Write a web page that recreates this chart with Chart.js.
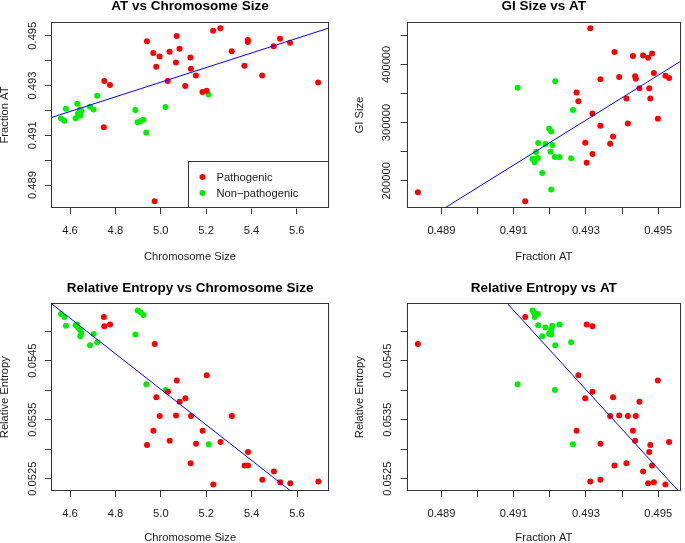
<!DOCTYPE html>
<html><head><meta charset="utf-8">
<script src="https://cdn.jsdelivr.net/npm/chart.js@4"></script>
<style>
html,body{margin:0;padding:0;background:#fff;overflow:hidden;width:685px;height:543px;}
canvas{position:absolute;display:block;}
</style></head><body>
<canvas id="c1" width="342" height="270" style="left:0;top:0"></canvas>
<canvas id="c2" width="343" height="270" style="left:342px;top:0"></canvas>
<canvas id="c3" width="342" height="273" style="left:0;top:270px"></canvas>
<canvas id="c4" width="343" height="273" style="left:342px;top:270px"></canvas>
<script>
// ---------------- data ----------------
const groupNames = ['Pathogenic', 'Non\u2212pathogenic'];

const pathSize = [4.749, 4.751, 4.776, 4.939, 4.967, 4.973, 4.980, 4.995, 5.031, 5.039, 5.067, 5.070, 5.083, 5.108, 5.131, 5.133, 5.155, 5.184, 5.202, 5.231, 5.263, 5.313, 5.369, 5.384, 5.384, 5.447, 5.498, 5.526, 5.570, 5.694];
const pathAT = [0.49132, 0.49318, 0.49302, 0.49478, 0.49430, 0.48835, 0.49375, 0.49416, 0.49318, 0.49436, 0.49392, 0.49499, 0.49448, 0.49298, 0.49412, 0.49367, 0.49340, 0.49274, 0.49279, 0.49520, 0.49530, 0.49438, 0.49379, 0.49483, 0.49475, 0.49340, 0.49458, 0.49488, 0.49472, 0.49312];
const pathEntropy = [0.05524, 0.05508, 0.05511, 0.05307, 0.05331, 0.05478, 0.05388, 0.05356, 0.05397, 0.05314, 0.05357, 0.05416, 0.05380, 0.05386, 0.05276, 0.05356, 0.05309, 0.05331, 0.05425, 0.05240, 0.05312, 0.05356, 0.05272, 0.05272, 0.05295, 0.05248, 0.05262, 0.05244, 0.05242, 0.05245];
const pathGI = [164800, 245900, 231000, 341200, 414300, 180200, 276100, 298400, 315500, 379500, 378300, 306400, 358900, 265300, 341200, 263600, 374300, 351500, 336600, 380600, 376600, 375500, 421100, 418800, 358900, 294400, 415400, 385200, 411400, 462200];

const nonSize = [4.560, 4.575, 4.582, 4.625, 4.632, 4.635, 4.644, 4.650, 4.645, 4.688, 4.704, 4.720, 4.888, 4.898, 4.911, 4.923, 4.936, 5.021, 5.211];
const nonAT = [0.49167, 0.49158, 0.49207, 0.49168, 0.49227, 0.49188, 0.49204, 0.49198, 0.49179, 0.49215, 0.49204, 0.49259, 0.49202, 0.49152, 0.49156, 0.49162, 0.49111, 0.49214, 0.49264];
const nonEntropy = [0.05529, 0.05524, 0.05509, 0.05510, 0.05511, 0.05506, 0.05502, 0.05496, 0.05491, 0.05476, 0.05495, 0.05481, 0.05494, 0.05535, 0.05532, 0.05527, 0.05410, 0.05400, 0.05308];
const nonGI = [239000, 231600, 261300, 264700, 240700, 263000, 184800, 289800, 213300, 370900, 284700, 238500, 249900, 237300, 237300, 249300, 360000, 240700, 321800];

// fitted regression lines (end points)
const fitSizeAT_x = [4.516, 5.742];      const fitSizeAT_y = [0.49171, 0.49531];
const fitATGI_x = [0.48909, 0.49563];    const fitATGI_y = [153200, 405700];
const fitSizeEnt_x = [4.516, 5.572];     const fitSizeEnt_y = [0.05547, 0.05229];
const fitATEnt_x = [0.49082, 0.49556];   const fitATEnt_y = [0.05547, 0.05229];

// tick labels
const sizeTickLabels = ['4.6', '4.8', '5.0', '5.2', '5.4', '5.6'];
const atTickLabels = ['0.489', '0.491', '0.493', '0.495'];
const giTickLabels = ['200000', '300000', '400000'];
const entropyTickLabels = ['0.0525', '0.0535', '0.0545'];

// ---------------- styling ----------------
const FONT = "'Liberation Sans', Arial, Helvetica, sans-serif";
const TEXT = '#1a1a1a';
const RED = '#ff0000';
const GREEN = '#00ee00';
const BLUE = '#0000ff';
const FRAME = '#333333';
const FS = 11.2;

function pts(xs, ys) { return xs.map((x, i) => ({x: x, y: ys[i]})); }
function labeler(labels) {
  return function (v) {
    const hit = labels.find(l => Math.abs(parseFloat(l) - v) <= 1e-6 * Math.abs(v));
    return hit === undefined ? '' : hit;
  };
}
function stepTicks(o) {
  return function (s) {
    const t = [];
    const n0 = Math.ceil(o.min / o.step - 1e-9), n1 = Math.floor(o.max / o.step + 1e-9);
    for (let n = n0; n <= n1; n++) t.push({value: +(n * o.step).toPrecision(12)});
    s.ticks = t;
  };
}
function axisX(o) {
  return {
    type: 'linear', position: 'bottom', min: o.min, max: o.max,
    ticks: {stepSize: o.step, includeBounds: false, autoSkip: false, minRotation: 0, maxRotation: 0,
      padding: o.tickPad, color: TEXT, font: {family: FONT, size: FS}, callback: labeler(o.labels)},
    grid: {drawOnChartArea: false, drawTicks: true, tickLength: 6, color: FRAME, lineWidth: 1},
    border: {display: false},
    title: {display: true, text: o.title, color: TEXT, font: {family: FONT, size: FS, lineHeight: 1.2},
      padding: {top: 0, bottom: o.titlePad}},
    afterBuildTicks: stepTicks(o),
    afterFit(s) { s.height = o.size; }
  };
}
function axisY(o) {
  return {
    type: 'linear', position: 'left', min: o.min, max: o.max,
    ticks: {stepSize: o.step, includeBounds: false, autoSkip: false, minRotation: 90, maxRotation: 90,
      crossAlign: 'center', padding: o.tickPad, color: TEXT, font: {family: FONT, size: FS},
      callback: labeler(o.labels)},
    grid: {drawOnChartArea: false, drawTicks: true, tickLength: 6, color: FRAME, lineWidth: 1},
    border: {display: false},
    title: {display: true, text: o.title, color: TEXT, font: {family: FONT, size: FS, lineHeight: 1.2},
      padding: {top: o.titlePad, bottom: 0}},
    afterBuildTicks: stepTicks(o),
    afterFit(s) { s.width = o.size; }
  };
}
const framePlugin = {
  id: 'frame',
  afterDatasetsDraw(chart) {
    const a = chart.chartArea, ctx = chart.ctx;
    ctx.save();
    ctx.strokeStyle = FRAME; ctx.lineWidth = 1;
    const l = Math.round(a.left) + 0.5, t = Math.round(a.top) + 0.5;
    const r = Math.round(a.right) - 0.5, b = Math.round(a.bottom) - 0.5;
    ctx.strokeRect(l, t, r - l, b - t);
    ctx.restore();
  }
};
const insetLegend = {
  id: 'insetLegend',
  afterDraw(chart) {
    const a = chart.chartArea, ctx = chart.ctx;
    const items = chart.data.datasets.filter(d => !d.showLine);
    const w = 141, h = 47;
    const left = Math.round(a.right - w) + 0.5, top = Math.round(a.bottom - h) + 0.5;
    ctx.save();
    ctx.fillStyle = '#fff';
    ctx.fillRect(left, top, w, h);
    ctx.strokeStyle = FRAME; ctx.lineWidth = 1;
    ctx.strokeRect(left, top, Math.round(a.right) - 0.5 - left, Math.round(a.bottom) - 0.5 - top);
    ctx.font = FS + 'px ' + FONT;
    ctx.textBaseline = 'middle';
    items.forEach((d, i) => {
      const y = top + 15.5 + i * 16;
      ctx.fillStyle = d.backgroundColor;
      ctx.beginPath(); ctx.arc(left + 14, y, 3, 0, Math.PI * 2); ctx.fill();
      ctx.fillStyle = TEXT;
      ctx.fillText(d.label, left + 28, y + 0.5);
    });
    ctx.restore();
  }
};

function makeChart(id, cfg) {
  const datasets = [
    {label: 'fit', data: pts(cfg.fitX, cfg.fitY), showLine: true, borderColor: BLUE, borderWidth: 1,
      pointRadius: 0, fill: false},
    {label: groupNames[0], data: pts(cfg.px, cfg.py), backgroundColor: RED, borderWidth: 0, pointRadius: 3},
    {label: groupNames[1], data: pts(cfg.nx, cfg.ny), backgroundColor: GREEN, borderWidth: 0, pointRadius: 3}
  ];
  return new Chart(document.getElementById(id), {
    type: 'scatter',
    data: {datasets},
    plugins: cfg.legend ? [framePlugin, insetLegend] : [framePlugin],
    options: {
      responsive: false, animation: false, devicePixelRatio: 1, events: [],
      layout: {padding: {left: 0, top: 0, bottom: 0, right: cfg.padRight}},
      plugins: {
        legend: {display: false}, tooltip: {enabled: false},
        title: {display: true, text: cfg.title, color: '#000', fullSize: false,
          font: {family: FONT, size: 13.5, weight: 'bold', lineHeight: 1},
          padding: {top: cfg.titleTop, bottom: cfg.titleBottom}}
      },
      scales: {x: cfg.x, y: cfg.y}
    }
  });
}

const sizeAxis = (h, tp) => axisX({min: 4.516, max: 5.742, step: 0.2, labels: sizeTickLabels, title: 'Chromosome Size', tickPad: 10, titlePad: tp, size: h});
const atAxisX = (h, tp) => axisX({min: 0.48804, max: 0.49563, step: 0.001, labels: atTickLabels, title: 'Fraction AT', tickPad: 10, titlePad: tp, size: h});

makeChart('c1', {
  title: 'AT vs Chromosome Size', titleTop: 0, titleBottom: 8.5, padRight: 13, legend: true,
  fitX: fitSizeAT_x, fitY: fitSizeAT_y, px: pathSize, py: pathAT, nx: nonSize, ny: nonAT,
  x: sizeAxis(62, 6.6),
  y: axisY({min: 0.48808, max: 0.49555, step: 0.001, labels: atTickLabels, title: 'Fraction AT', tickPad: -1.5, titlePad: -1.7, size: 51})
});
makeChart('c2', {
  title: 'GI Size vs AT', titleTop: 0, titleBottom: 8.5, padRight: 0.5,
  fitX: fitATGI_x, fitY: fitATGI_y, px: pathAT, py: pathGI, nx: nonAT, ny: nonGI,
  x: atAxisX(62, 6.6),
  y: axisY({min: 153200, max: 472800, step: 50000, labels: giTickLabels, title: 'GI Size', tickPad: -5.3, titlePad: 11.3, size: 64.7})
});
makeChart('c3', {
  title: 'Relative Entropy vs Chromosome Size', titleTop: 11.25, titleBottom: 8.55, padRight: 12.7,
  fitX: fitSizeEnt_x, fitY: fitSizeEnt_y, px: pathSize, py: pathEntropy, nx: nonSize, ny: nonEntropy,
  x: sizeAxis(52, -1.7),
  y: axisY({min: 0.05229, max: 0.05547, step: 0.0005, labels: entropyTickLabels, title: 'Relative Entropy', tickPad: -4.6, titlePad: -1.7, size: 51})
});
makeChart('c4', {
  title: 'Relative Entropy vs AT', titleTop: 11.25, titleBottom: 8.55, padRight: 0.5,
  fitX: fitATEnt_x, fitY: fitATEnt_y, px: pathAT, py: pathEntropy, nx: nonAT, ny: nonEntropy,
  x: atAxisX(52, -1.7),
  y: axisY({min: 0.05229, max: 0.05547, step: 0.0005, labels: entropyTickLabels, title: 'Relative Entropy', tickPad: -4.6, titlePad: 11.3, size: 64.7})
});
</script>
</body></html>
